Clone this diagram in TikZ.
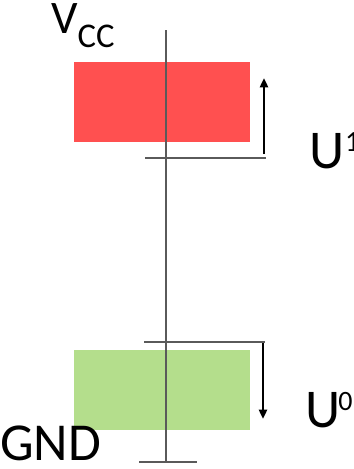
\documentclass[tikz,border=0pt]{standalone}
\usepackage{fontspec}
\setmainfont{Carlito}
\usetikzlibrary{arrows.meta}
\definecolor{hired}{RGB}{255,80,80}
\definecolor{logreen}{RGB}{180,222,140}
\definecolor{axisgray}{RGB}{90,90,90}
\tikzset{
  levelbox/.style={draw=none,minimum width=132pt,minimum height=60pt,inner sep=0pt},
  axisline/.style={draw=axisgray,line width=1pt},
  tickline/.style={draw=axisgray,line width=1pt},
  dirarrow/.style={draw=black,line width=1.8pt,-{Triangle[length=7pt,width=6pt]}},
  lbl/.style={inner sep=0pt,anchor=base west,text=black},
}
\begin{document}
\begin{tikzpicture}[x=0.75pt,y=-0.75pt]
\useasboundingbox (0,0) rectangle (354,469);
% level boxes
\node[levelbox,fill=hired] (hi) at (162,102) {};
\node[levelbox,fill=logreen] (lo) at (162,389.5) {};
% axis
\coordinate (atop) at (166,30);
\coordinate (abot) at (166,462);
\draw[axisline] (atop) -- (abot);
% ticks
\coordinate (t1a) at (145,158); \coordinate (t1b) at (266,158);
\draw[tickline] (t1a) -- (t1b);
\coordinate (t0a) at (144,342); \coordinate (t0b) at (265,342);
\draw[tickline] (t0a) -- (t0b);
\coordinate (tga) at (139,462); \coordinate (tgb) at (197,462);
\draw[tickline] (tga) -- (tgb);
% arrows
\coordinate (u1s) at (264,154); \coordinate (u1e) at (264,78);
\draw[dirarrow] (u1s) -- (u1e);
\coordinate (u0s) at (263,343); \coordinate (u0e) at (263,419);
\draw[dirarrow] (u0s) -- (u0e);
% labels
\node[lbl,font=\fontsize{35}{35}\selectfont] (vcc) at (51,33) {V\raisebox{-0.3em}{\fontsize{26}{26}\selectfont CC}};
\node[lbl,font=\fontsize{41}{41}\selectfont] (u1) at (309,168) {U\kern0.5pt\raisebox{0.3em}{\fontsize{22}{22}\selectfont 1}};
\node[lbl,font=\fontsize{41}{41}\selectfont] (u0) at (305,427) {U\kern-1.5pt\raisebox{0.3em}{\fontsize{21}{21}\selectfont\rmfamily 0}};
\node[lbl,font=\fontsize{40}{40}\selectfont] (gnd) at (0,460) {GND};
\end{tikzpicture}
\end{document}
